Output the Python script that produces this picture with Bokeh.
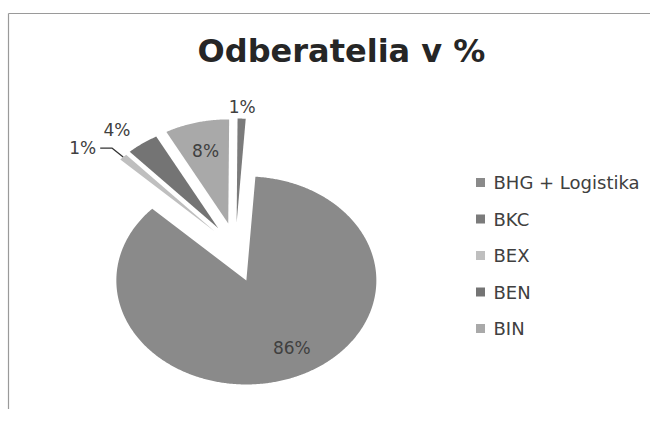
import numpy as np
from bokeh.plotting import figure
from bokeh.models import Range1d
from bokeh.core.properties import value
from bokeh.embed import file_html
from bokeh.resources import INLINE

# ---------------- data ----------------
title_text = "Odberatelia v %"
categories = ["BHG + Logistika", "BKC", "BEX", "BEN", "BIN"]
values = [86, 1, 1, 4, 8]
colors = ["#8a8a8a", "#7b7b7b", "#bfbfbf", "#747474", "#a9a9a9"]
slice_order = [0, 2, 3, 4, 1]          # clockwise from the top, as drawn
label_radius = [0.74, 1.115, None, 1.22, 0.72]  # None -> label with leader line
label_turn = [-7.0, 0.0, 0.0, -4.0, 0.0]        # small angular nudges (deg)

# ---------------- layout ----------------
W, H = 650, 409
OX, OY = 2, 0            # page position of the figure's top-left corner
CX, CY = 237, 252        # pie centre (page px)
RX, RY = 130, 104        # pie radii (px)
EXPLODE = 30             # explosion (px)
START = 4.0              # angle of first slice (deg, clockwise from top)
FONT = "DejaVu Sans"


def dx(X):
    return (X - CX) / RX


def dy(Y):
    return (CY - Y) / RY


p = figure(width=W, height=H, output_backend="svg", toolbar_location=None,
           x_axis_type=None, y_axis_type=None, min_border=0,
           x_range=Range1d(dx(OX), dx(OX + W)), y_range=Range1d(dy(OY + H), dy(OY)))
p.outline_line_color = None
p.background_fill_color = "white"
p.border_fill_color = "white"
p.grid.visible = False

# chart border (left and top visible)
p.line([dx(10), dx(10)], [dy(13), dy(440)], line_color="#9a9a9a", line_width=1.2)
p.line([dx(10), dx(700)], [dy(13), dy(13)], line_color="#9a9a9a", line_width=1.2)

# ---------------- slices ----------------
total = float(sum(values))
xs, ys, fills = [], [], []
lab_x, lab_y, lab_t = [], [], []
leader = None
a = START
for idx in slice_order:
    span = values[idx] / total * 360.0
    a0, a1 = a, a + span
    am = np.radians((a0 + a1) / 2)
    ox = EXPLODE * np.sin(am) / RX
    oy = EXPLODE * np.cos(am) / RY
    th = np.radians(np.linspace(a0, a1, max(3, int(span * 2) + 2)))
    px_ = np.concatenate([[ox], ox + np.sin(th), [ox]])
    py_ = np.concatenate([[oy], oy + np.cos(th), [oy]])
    xs.append(list(px_))
    ys.append(list(py_))
    fills.append(colors[idx])
    r = label_radius[idx]
    if r is not None:
        al = am + np.radians(label_turn[idx])
        lab_x.append(ox + r * np.sin(al))
        lab_y.append(oy + r * np.cos(al))
        lab_t.append(f"{values[idx]}%")
    else:
        p1 = (ox + 1.0 * np.sin(am), oy + 1.0 * np.cos(am))
        p2 = (ox + 1.12 * np.sin(am), oy + 1.12 * np.cos(am))
        p3 = (p2[0] - 12 / RX, p2[1])
        leader = (p1, p2, p3, f"{values[idx]}%")
    a = a1

p.patches(xs, ys, fill_color=fills, line_color=None)

p.text(lab_x, lab_y, text=lab_t, text_font=value(FONT), text_font_size="17px",
       text_color="#404040", text_align="center", text_baseline="middle")

if leader is not None:
    p1, p2, p3, t = leader
    p.line([p1[0], p2[0], p3[0]], [p1[1], p2[1], p3[1]], line_color="#333333", line_width=1.3)
    p.text([p3[0] - 4 / RX], [p3[1]], text=[t], text_font=value(FONT), text_font_size="17px",
           text_color="#404040", text_align="right", text_baseline="middle")

# ---------------- title ----------------
p.text([dx(343)], [dy(50)], text=[title_text], text_font=value(FONT), text_font_size="32px",
       text_font_style="bold", text_color="#262626", text_align="center", text_baseline="middle")

# ---------------- legend ----------------
leg_y = [dy(182 + 36.5 * i) for i in range(len(categories))]
p.scatter([dx(482)] * len(categories), leg_y, marker="square", size=9,
          fill_color=colors, line_color=None)
p.text([dx(495)] * len(categories), leg_y, text=categories, text_font=value(FONT),
       text_font_size="18px", text_color="#404040", text_align="left", text_baseline="middle")

open("out.html", "w").write(file_html(p, INLINE))
